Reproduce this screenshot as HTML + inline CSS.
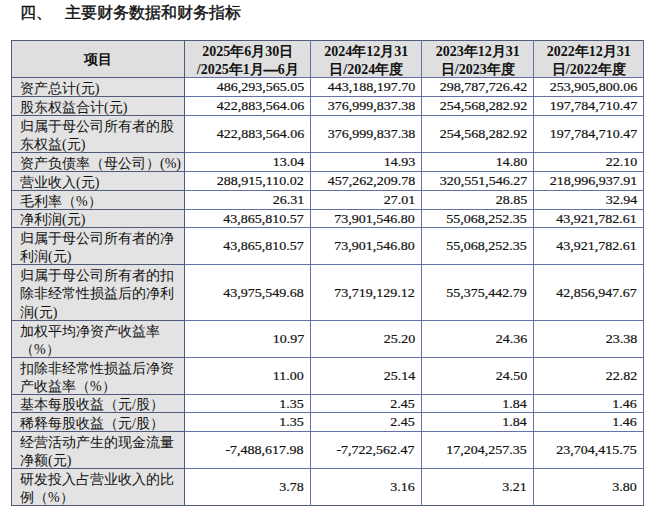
<!DOCTYPE html>
<html><head><meta charset="utf-8">
<style>
html,body{margin:0;padding:0;background:#fff;}
body{width:652px;height:508px;position:relative;overflow:hidden;font-family:"Liberation Serif",serif;color:#111;}
.title{position:absolute;left:20px;top:2px;font-family:"Liberation Sans",sans-serif;font-weight:normal;-webkit-text-stroke:0.4px #111;font-size:16px;line-height:22px;white-space:pre;color:#111;}
.bg{position:absolute;}
.dash{-webkit-text-stroke:0.6px #111;}
.c{position:absolute;box-sizing:border-box;display:flex;align-items:center;font-size:14px;line-height:18.6px;white-space:nowrap;}
.c>span{position:relative;top:2.7px;}
.hd>span{top:2.5px;}
.hd{justify-content:center;text-align:center;font-weight:bold;line-height:18px;padding-left:1.6px;}
.lb{justify-content:flex-start;padding-left:9px;font-weight:300;}
.nm{justify-content:flex-end;padding-right:6px;}
.nm>span{top:1px;display:inline-block;font-size:13px;transform:scaleX(1.077);transform-origin:100% 50%;-webkit-text-stroke:0.2px #111;}
.hl{position:absolute;height:1px;background:#5f6d9e;}
.vl{position:absolute;width:1px;background:#5f6d9e;}
</style></head><body>
<div class="title">四、   主要财务数据和财务指标</div>
<div class="bg" style="left:11px;top:40px;width:632px;height:37px;background:#dfdfdf"></div><div class="bg" style="left:11px;top:77px;width:173px;height:428px;background:#e3e3e3"></div><div class="c hd" style="left:11px;top:40px;width:173px;height:37px"><span style="top:1.8px">项目</span></div><div class="c hd" style="left:184px;top:40px;width:126px;height:37px"><span>2025年6月30日<br>/2025年1月<span class=dash>—</span>6月</span></div><div class="c hd" style="left:310px;top:40px;width:111px;height:37px"><span>2024年12月31<br>日/2024年度</span></div><div class="c hd" style="left:421px;top:40px;width:112px;height:37px"><span>2023年12月31<br>日/2023年度</span></div><div class="c hd" style="left:533px;top:40px;width:110px;height:37px"><span>2022年12月31<br>日/2022年度</span></div><div class="c lb" style="left:11px;top:77px;width:173px;height:19px"><span>资产总计(元)</span></div><div class="c nm" style="left:184px;top:77px;width:126px;height:19px"><span>486,293,565.05</span></div><div class="c nm" style="left:310px;top:77px;width:111px;height:19px"><span>443,188,197.70</span></div><div class="c nm" style="left:421px;top:77px;width:112px;height:19px"><span>298,787,726.42</span></div><div class="c nm" style="left:533px;top:77px;width:110px;height:19px"><span>253,905,800.06</span></div><div class="c lb" style="left:11px;top:96px;width:173px;height:19px"><span>股东权益合计(元)</span></div><div class="c nm" style="left:184px;top:96px;width:126px;height:19px"><span>422,883,564.06</span></div><div class="c nm" style="left:310px;top:96px;width:111px;height:19px"><span>376,999,837.38</span></div><div class="c nm" style="left:421px;top:96px;width:112px;height:19px"><span>254,568,282.92</span></div><div class="c nm" style="left:533px;top:96px;width:110px;height:19px"><span>197,784,710.47</span></div><div class="c lb" style="left:11px;top:115px;width:173px;height:37px"><span>归属于母公司所有者的股<br>东权益(元)</span></div><div class="c nm" style="left:184px;top:115px;width:126px;height:37px"><span>422,883,564.06</span></div><div class="c nm" style="left:310px;top:115px;width:111px;height:37px"><span>376,999,837.38</span></div><div class="c nm" style="left:421px;top:115px;width:112px;height:37px"><span>254,568,282.92</span></div><div class="c nm" style="left:533px;top:115px;width:110px;height:37px"><span>197,784,710.47</span></div><div class="c lb" style="left:11px;top:152px;width:173px;height:19px"><span>资产负债率（母公司）(%)</span></div><div class="c nm" style="left:184px;top:152px;width:126px;height:19px"><span>13.04</span></div><div class="c nm" style="left:310px;top:152px;width:111px;height:19px"><span>14.93</span></div><div class="c nm" style="left:421px;top:152px;width:112px;height:19px"><span>14.80</span></div><div class="c nm" style="left:533px;top:152px;width:110px;height:19px"><span>22.10</span></div><div class="c lb" style="left:11px;top:171px;width:173px;height:19px"><span>营业收入(元)</span></div><div class="c nm" style="left:184px;top:171px;width:126px;height:19px"><span>288,915,110.02</span></div><div class="c nm" style="left:310px;top:171px;width:111px;height:19px"><span>457,262,209.78</span></div><div class="c nm" style="left:421px;top:171px;width:112px;height:19px"><span>320,551,546.27</span></div><div class="c nm" style="left:533px;top:171px;width:110px;height:19px"><span>218,996,937.91</span></div><div class="c lb" style="left:11px;top:190px;width:173px;height:19px"><span>毛利率（%）</span></div><div class="c nm" style="left:184px;top:190px;width:126px;height:19px"><span>26.31</span></div><div class="c nm" style="left:310px;top:190px;width:111px;height:19px"><span>27.01</span></div><div class="c nm" style="left:421px;top:190px;width:112px;height:19px"><span>28.85</span></div><div class="c nm" style="left:533px;top:190px;width:110px;height:19px"><span>32.94</span></div><div class="c lb" style="left:11px;top:209px;width:173px;height:18px"><span>净利润(元)</span></div><div class="c nm" style="left:184px;top:209px;width:126px;height:18px"><span>43,865,810.57</span></div><div class="c nm" style="left:310px;top:209px;width:111px;height:18px"><span>73,901,546.80</span></div><div class="c nm" style="left:421px;top:209px;width:112px;height:18px"><span>55,068,252.35</span></div><div class="c nm" style="left:533px;top:209px;width:110px;height:18px"><span>43,921,782.61</span></div><div class="c lb" style="left:11px;top:227px;width:173px;height:37px"><span>归属于母公司所有者的净<br>利润(元)</span></div><div class="c nm" style="left:184px;top:227px;width:126px;height:37px"><span>43,865,810.57</span></div><div class="c nm" style="left:310px;top:227px;width:111px;height:37px"><span>73,901,546.80</span></div><div class="c nm" style="left:421px;top:227px;width:112px;height:37px"><span>55,068,252.35</span></div><div class="c nm" style="left:533px;top:227px;width:110px;height:37px"><span>43,921,782.61</span></div><div class="c lb" style="left:11px;top:264px;width:173px;height:56px"><span>归属于母公司所有者的扣<br>除非经常性损益后的净利<br>润(元)</span></div><div class="c nm" style="left:184px;top:264px;width:126px;height:56px"><span>43,975,549.68</span></div><div class="c nm" style="left:310px;top:264px;width:111px;height:56px"><span>73,719,129.12</span></div><div class="c nm" style="left:421px;top:264px;width:112px;height:56px"><span>55,375,442.79</span></div><div class="c nm" style="left:533px;top:264px;width:110px;height:56px"><span>42,856,947.67</span></div><div class="c lb" style="left:11px;top:320px;width:173px;height:37px"><span>加权平均净资产收益率<br>（%）</span></div><div class="c nm" style="left:184px;top:320px;width:126px;height:37px"><span>10.97</span></div><div class="c nm" style="left:310px;top:320px;width:111px;height:37px"><span>25.20</span></div><div class="c nm" style="left:421px;top:320px;width:112px;height:37px"><span>24.36</span></div><div class="c nm" style="left:533px;top:320px;width:110px;height:37px"><span>23.38</span></div><div class="c lb" style="left:11px;top:357px;width:173px;height:37px"><span>扣除非经常性损益后净资<br>产收益率（%）</span></div><div class="c nm" style="left:184px;top:357px;width:126px;height:37px"><span>11.00</span></div><div class="c nm" style="left:310px;top:357px;width:111px;height:37px"><span>25.14</span></div><div class="c nm" style="left:421px;top:357px;width:112px;height:37px"><span>24.50</span></div><div class="c nm" style="left:533px;top:357px;width:110px;height:37px"><span>22.82</span></div><div class="c lb" style="left:11px;top:394px;width:173px;height:18px"><span>基本每股收益（元/股）</span></div><div class="c nm" style="left:184px;top:394px;width:126px;height:18px"><span>1.35</span></div><div class="c nm" style="left:310px;top:394px;width:111px;height:18px"><span>2.45</span></div><div class="c nm" style="left:421px;top:394px;width:112px;height:18px"><span>1.84</span></div><div class="c nm" style="left:533px;top:394px;width:110px;height:18px"><span>1.46</span></div><div class="c lb" style="left:11px;top:412px;width:173px;height:19px"><span>稀释每股收益（元/股）</span></div><div class="c nm" style="left:184px;top:412px;width:126px;height:19px"><span>1.35</span></div><div class="c nm" style="left:310px;top:412px;width:111px;height:19px"><span>2.45</span></div><div class="c nm" style="left:421px;top:412px;width:112px;height:19px"><span>1.84</span></div><div class="c nm" style="left:533px;top:412px;width:110px;height:19px"><span>1.46</span></div><div class="c lb" style="left:11px;top:431px;width:173px;height:37px"><span>经营活动产生的现金流量<br>净额(元)</span></div><div class="c nm" style="left:184px;top:431px;width:126px;height:37px"><span>-7,488,617.98</span></div><div class="c nm" style="left:310px;top:431px;width:111px;height:37px"><span>-7,722,562.47</span></div><div class="c nm" style="left:421px;top:431px;width:112px;height:37px"><span>17,204,257.35</span></div><div class="c nm" style="left:533px;top:431px;width:110px;height:37px"><span>23,704,415.75</span></div><div class="c lb" style="left:11px;top:468px;width:173px;height:37px"><span>研发投入占营业收入的比<br>例（%）</span></div><div class="c nm" style="left:184px;top:468px;width:126px;height:37px"><span>3.78</span></div><div class="c nm" style="left:310px;top:468px;width:111px;height:37px"><span>3.16</span></div><div class="c nm" style="left:421px;top:468px;width:112px;height:37px"><span>3.21</span></div><div class="c nm" style="left:533px;top:468px;width:110px;height:37px"><span>3.80</span></div><div class="hl" style="left:11px;top:40px;width:173px;background:#4f5a7c"></div><div class="hl" style="left:184px;top:40px;width:460px;background:#4f5a7c"></div><div class="hl" style="left:11px;top:77px;width:173px;background:#4f5a7c"></div><div class="hl" style="left:184px;top:77px;width:460px;background:#6570a6"></div><div class="hl" style="left:11px;top:96px;width:173px;background:#4f5a7c"></div><div class="hl" style="left:184px;top:96px;width:460px;background:#6570a6"></div><div class="hl" style="left:11px;top:115px;width:173px;background:#4f5a7c"></div><div class="hl" style="left:184px;top:115px;width:460px;background:#6570a6"></div><div class="hl" style="left:11px;top:152px;width:173px;background:#4f5a7c"></div><div class="hl" style="left:184px;top:152px;width:460px;background:#6570a6"></div><div class="hl" style="left:11px;top:171px;width:173px;background:#4f5a7c"></div><div class="hl" style="left:184px;top:171px;width:460px;background:#6570a6"></div><div class="hl" style="left:11px;top:190px;width:173px;background:#4f5a7c"></div><div class="hl" style="left:184px;top:190px;width:460px;background:#6570a6"></div><div class="hl" style="left:11px;top:209px;width:173px;background:#4f5a7c"></div><div class="hl" style="left:184px;top:209px;width:460px;background:#6570a6"></div><div class="hl" style="left:11px;top:227px;width:173px;background:#4f5a7c"></div><div class="hl" style="left:184px;top:227px;width:460px;background:#6570a6"></div><div class="hl" style="left:11px;top:264px;width:173px;background:#4f5a7c"></div><div class="hl" style="left:184px;top:264px;width:460px;background:#6570a6"></div><div class="hl" style="left:11px;top:320px;width:173px;background:#4f5a7c"></div><div class="hl" style="left:184px;top:320px;width:460px;background:#6570a6"></div><div class="hl" style="left:11px;top:357px;width:173px;background:#4f5a7c"></div><div class="hl" style="left:184px;top:357px;width:460px;background:#6570a6"></div><div class="hl" style="left:11px;top:394px;width:173px;background:#4f5a7c"></div><div class="hl" style="left:184px;top:394px;width:460px;background:#6570a6"></div><div class="hl" style="left:11px;top:412px;width:173px;background:#4f5a7c"></div><div class="hl" style="left:184px;top:412px;width:460px;background:#6570a6"></div><div class="hl" style="left:11px;top:431px;width:173px;background:#4f5a7c"></div><div class="hl" style="left:184px;top:431px;width:460px;background:#6570a6"></div><div class="hl" style="left:11px;top:468px;width:173px;background:#4f5a7c"></div><div class="hl" style="left:184px;top:468px;width:460px;background:#6570a6"></div><div class="hl" style="left:11px;top:505px;width:173px;background:#4f5a7c"></div><div class="hl" style="left:184px;top:505px;width:460px;background:#4f5a7c"></div><div class="vl" style="left:11px;top:40px;height:466px;background:#4f5a7c"></div><div class="vl" style="left:184px;top:40px;height:466px;background:#4f5a7c"></div><div class="vl" style="left:310px;top:40px;height:466px;background:#6570a6"></div><div class="vl" style="left:421px;top:40px;height:466px;background:#6570a6"></div><div class="vl" style="left:533px;top:40px;height:466px;background:#6570a6"></div><div class="vl" style="left:643px;top:40px;height:466px;background:#5a6898"></div>
</body></html>
